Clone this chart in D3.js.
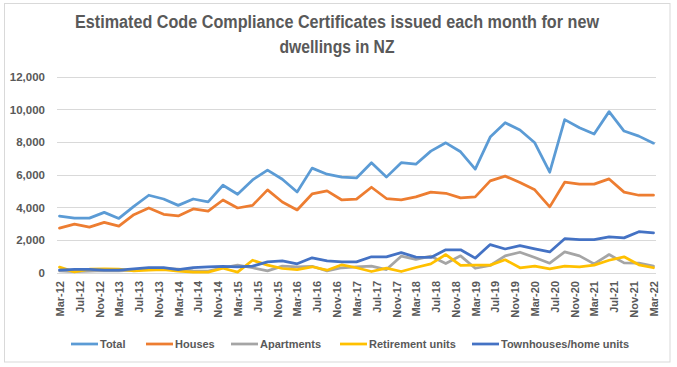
<!DOCTYPE html>
<html>
<head>
<meta charset="utf-8">
<script src="https://cdn.jsdelivr.net/npm/d3@7"></script>
<style>
  html, body { margin: 0; padding: 0; background: #fff; }
  svg { display: block; }
  text { font-family: "Liberation Sans", Arial, sans-serif; fill: #595959; }
</style>
</head>
<body>
<svg id="chart" width="677" height="367"></svg>
<script>
// ---- Data (quarterly, Mar-12 .. Mar-22) ----
const periods = [
  "Mar-12","Jun-12","Sep-12","Dec-12","Mar-13","Jun-13","Sep-13","Dec-13",
  "Mar-14","Jun-14","Sep-14","Dec-14","Mar-15","Jun-15","Sep-15","Dec-15",
  "Mar-16","Jun-16","Sep-16","Dec-16","Mar-17","Jun-17","Sep-17","Dec-17",
  "Mar-18","Jun-18","Sep-18","Dec-18","Mar-19","Jun-19","Sep-19","Dec-19",
  "Mar-20","Jun-20","Sep-20","Dec-20","Mar-21","Jun-21","Sep-21","Dec-21",
  "Mar-22"
];
const total = [3450,3330,3330,3680,3310,4050,4730,4500,4110,4500,4320,5340,4790,5670,6270,5710,
  4930,6390,6020,5840,5790,6720,5840,6720,6630,7430,7940,7390,6330,8290,9170,8720,
  7940,6140,9360,8860,8480,9850,8660,8350,7920];
const houses = [2720,2960,2780,3070,2840,3540,3950,3560,3460,3890,3760,4440,3950,4110,5060,4320,
  3830,4810,5000,4440,4490,5220,4530,4450,4630,4920,4850,4570,4630,5610,5900,5510,
  5060,4020,5530,5410,5410,5730,4920,4730,4730];
const apartments = [100,60,80,120,100,150,200,250,200,100,80,290,450,290,100,390,
  350,380,100,290,350,390,180,1000,800,1000,550,1020,260,430,1020,1240,
  920,570,1260,1020,530,1100,590,570,390];
const retirement = [330,40,200,220,210,100,140,170,80,30,20,260,20,750,450,245,
  180,350,140,470,290,60,265,60,305,530,1100,430,450,450,780,290,
  390,220,390,350,450,750,960,470,290];
const townhouses = [150,190,190,150,150,220,300,300,180,300,350,380,350,390,650,710,
  530,900,710,650,650,960,960,1220,940,920,1390,1390,880,1710,1440,1640,
  1450,1260,2070,2010,2010,2180,2120,2500,2430];

const seriesNames = ["Total","Houses","Apartments","Retirement units","Townhouses/home units"];
const seriesColors = ["#5B9BD5","#ED7D31","#A5A5A5","#FFC000","#4472C4"];
const seriesValues = [total, houses, apartments, retirement, townhouses];

const yTicks = [0,2000,4000,6000,8000,10000,12000];
const xTickLabels = [
  "Mar-12","Jul-12","Nov-12","Mar-13","Jul-13","Nov-13","Mar-14","Jul-14","Nov-14",
  "Mar-15","Jul-15","Nov-15","Mar-16","Jul-16","Nov-16","Mar-17","Jul-17","Nov-17",
  "Mar-18","Jul-18","Nov-18","Mar-19","Jul-19","Nov-19","Mar-20","Jul-20","Nov-20",
  "Mar-21","Jul-21","Nov-21","Mar-22"
];
const titleLines = ["Estimated Code Compliance Certificates issued each month for new","dwellings in NZ"];

// ---- Build ----
const parse = d3.timeParse("%b-%y");
const dates = periods.map(parse);
const tickDates = xTickLabels.map(parse);

const svg = d3.select("#chart");

// outer border
svg.append("rect").attr("x", 4.5).attr("y", 3.5).attr("width", 665.5).attr("height", 358.5)
  .attr("fill", "#fff").attr("stroke", "#D9D9D9").attr("stroke-width", 1);

// title
svg.append("text").attr("x", 337).attr("y", 28).attr("text-anchor", "middle")
  .attr("font-size", 17.5).attr("font-weight", "bold")
  .attr("textLength", 524).attr("lengthAdjust", "spacingAndGlyphs")
  .text(titleLines[0]);
svg.append("text").attr("x", 337).attr("y", 53).attr("text-anchor", "middle")
  .attr("font-size", 17.5).attr("font-weight", "bold")
  .attr("textLength", 115).attr("lengthAdjust", "spacingAndGlyphs")
  .text(titleLines[1]);

const x = d3.scaleTime()
  .domain([dates[0], dates[dates.length - 1]])
  .range([59.5, 653.5]);
const y = d3.scaleLinear().domain([0, 12000]).range([272.5, 76.5]);

const gridX0 = 57, gridX1 = 656;

// gridlines
svg.append("g").selectAll("line").data(yTicks).join("line")
  .attr("x1", gridX0).attr("x2", gridX1)
  .attr("y1", d => Math.round(y(d)) + 0.5).attr("y2", d => Math.round(y(d)) + 0.5)
  .attr("stroke", "#D9D9D9").attr("stroke-width", 1);

// y axis labels
const yAxis = d3.axisLeft(y).tickValues(yTicks).tickFormat(d3.format(",")).tickSize(0).tickPadding(0);
const gy = svg.append("g").attr("transform", "translate(45,0)").call(yAxis);
gy.select(".domain").remove();
gy.selectAll("text").attr("font-size", 11.5).attr("font-weight", "bold")
  .attr("font-family", "Liberation Sans, Arial, sans-serif").attr("fill", "#595959")
  .attr("dy", "0.35em");

// x axis labels (rotated)
const xAxis = d3.axisBottom(x).tickValues(tickDates).tickFormat(d3.timeFormat("%b-%y")).tickSize(0).tickPadding(0);
const gx = svg.append("g").attr("transform", "translate(0,281)").call(xAxis);
gx.select(".domain").remove();
gx.selectAll("text")
  .attr("font-size", 11).attr("font-weight", "bold")
  .attr("font-family", "Liberation Sans, Arial, sans-serif").attr("fill", "#595959")
  .attr("transform", "rotate(-90)")
  .attr("text-anchor", "end")
  .attr("x", 0).attr("y", 0).attr("dy", "0.35em");

// lines
const line = d3.line().x((d, i) => x(dates[i])).y(d => y(d));
svg.append("g").selectAll("path").data(seriesValues).join("path")
  .attr("d", d => line(d))
  .attr("fill", "none")
  .attr("stroke", (d, i) => seriesColors[i])
  .attr("stroke-width", 2.75)
  .attr("stroke-linejoin", "round")
  .attr("stroke-linecap", "round");

// legend
const legendX = [71, 146, 231, 340, 472];
const lg = svg.append("g").selectAll("g").data(seriesNames).join("g")
  .attr("transform", (d, i) => `translate(${legendX[i]},344)`);
lg.append("line").attr("x1", 0).attr("x2", 27).attr("y1", 0).attr("y2", 0)
  .attr("stroke", (d, i) => seriesColors[i]).attr("stroke-width", 2.75);
lg.append("text").attr("x", 29).attr("y", 0).attr("dy", "0.35em")
  .attr("font-size", 11).attr("font-weight", "bold")
  .text(d => d);
</script>
</body>
</html>
